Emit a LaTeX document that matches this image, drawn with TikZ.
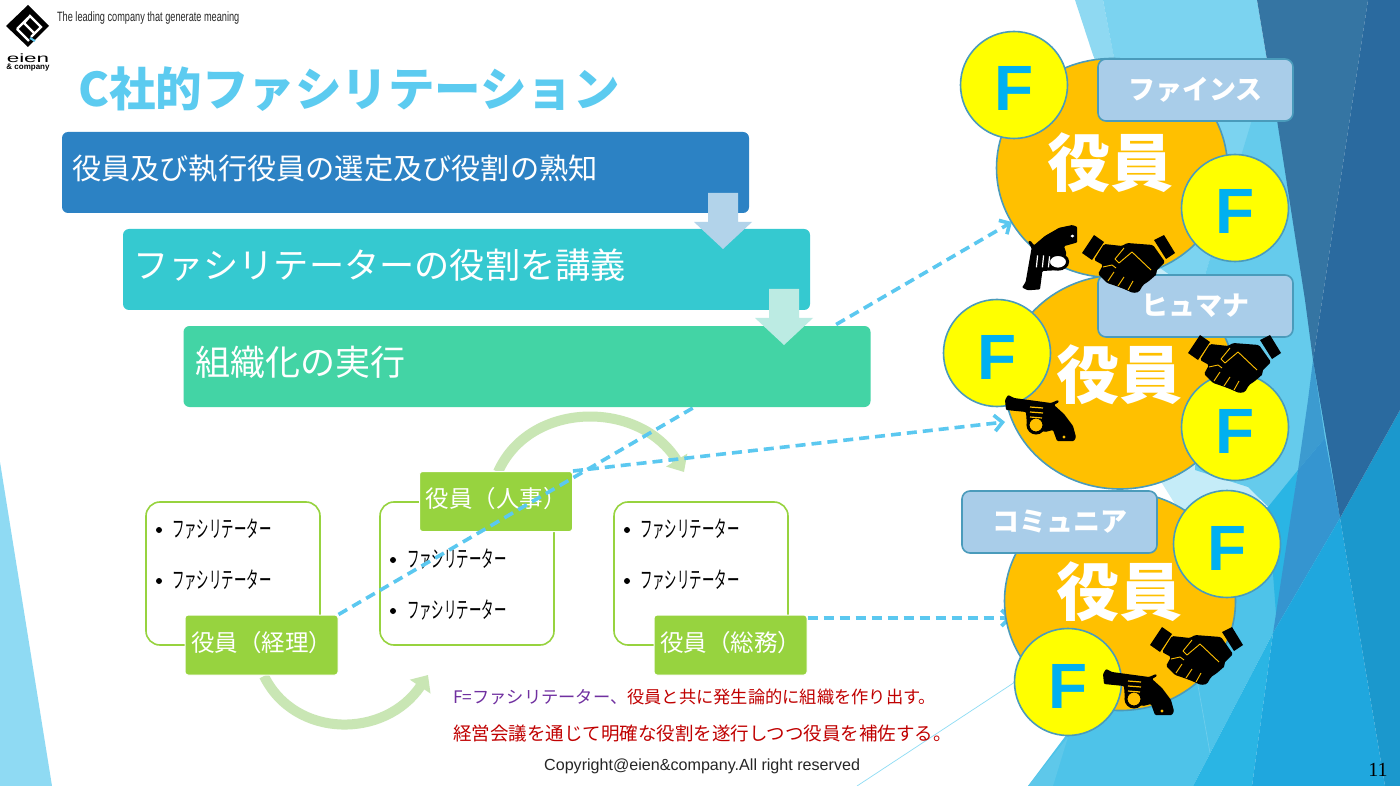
\documentclass[tikz,border=0pt]{standalone}
\usepackage{fontspec}
\setmainfont{Noto Sans CJK JP}
\newfontfamily\latinsans{Liberation Sans}
\newfontfamily\latinserif{Liberation Serif}
\usetikzlibrary{arrows.meta,shapes.geometric}
\definecolor{titleblue}{HTML}{5CCBF0}
\definecolor{stageone}{HTML}{2C82C4}
\definecolor{stagetwo}{HTML}{35C9D0}
\definecolor{stagethree}{HTML}{43D4A5}
\definecolor{leafgreen}{HTML}{97D33F}
\definecolor{palegreen}{HTML}{C9E6B4}
\definecolor{linkblue}{HTML}{5BC8F0}
\definecolor{rimblue}{HTML}{4A9BBB}
\definecolor{execgold}{HTML}{FFC000}
\definecolor{teamblue}{HTML}{A9CDE9}
\definecolor{markblue}{HTML}{00B0F0}
\definecolor{markyellow}{HTML}{FFFF00}
\definecolor{notered}{HTML}{C00000}
\definecolor{notepurple}{HTML}{7030A0}
\newcommand{\liftup}[2]{\raisebox{#1}[0pt][0pt]{#2}}
\begin{document}
\begin{tikzpicture}[x=1pt,y=-1pt,
stagebox/.style={rectangle,rounded corners=6pt,minimum width=687pt,minimum height=81pt,inner xsep=10pt,inner ysep=0pt,text=white,text width=667pt,align=left},
frame/.style={rectangle,rounded corners=14pt,draw=leafgreen,line width=1.6pt,fill=white,minimum width=174pt,minimum height=143pt},
officer/.style={rectangle,rounded corners=3pt,draw=white,line width=1pt,fill=leafgreen,minimum width=153pt,minimum height=60pt,inner sep=0pt,text=white,font=\fontsize{23.5}{26}\selectfont},
facil/.style={anchor=west,inner sep=0pt,xscale=0.54,transform shape,font=\fontsize{23}{26}\selectfont},
dotmark/.style={circle,fill=black,minimum size=6pt,inner sep=0pt},
turn/.style={draw=palegreen,line width=10pt,-{Triangle[length=14pt,width=24pt]}},
link/.style={draw=linkblue,line width=3.6pt,dash pattern=on 10pt off 6pt,-{Straight Barb[length=8pt,width=16pt]}},
exec/.style={ellipse,draw=rimblue,line width=1.6pt,fill=execgold,minimum width=231pt,minimum height=219pt,inner sep=0pt},
execword/.style={inner sep=0pt,text=white,font=\fontsize{63}{70}\selectfont\bfseries},
fmark/.style={circle,draw=rimblue,line width=1.6pt,fill=markyellow,minimum size=107pt,inner sep=0pt,text=markblue,font=\fontsize{64}{70}\selectfont\latinsans\bfseries},
team/.style={rectangle,rounded corners=8pt,draw=rimblue,line width=1.6pt,fill=teamblue,minimum width=195pt,minimum height=62pt,inner sep=0pt,text=white,font=\fontsize{27}{30}\selectfont\bfseries},
pics/shake/.style={code={
\fill (0,18)--(12,0)--(22,7)--(10,25)--cycle;
\fill (93,18)--(82,0)--(72,5)--(84,24)--cycle;
\fill[rounded corners=1.5pt] (22,9)--(40,11)--(45,8)--(71,10)--(83,27)--(74,36)--(75,39)--(67,46)--(61,50)--(57,57)--(51,58)--(42,54)--(34,51)--(25,48)--(16,39)--(21,30)--(12,25)--cycle;
\draw[execgold,line width=0.9pt,line join=round] (42,13)--(33,24)--(37,28)--(50,17)--(69,35);
\draw[execgold,line width=0.9pt] (21,32)--(30,30)--(34,33) (26,46)--(32,37) (36,51)--(42,42) (46,55)--(51,46);
}},
pics/gun/.style={code={
\fill[rounded corners=1pt] (4,10)--(7,5)--(13,8)--(50,13)--(57,10)--(58,12)--(53,15)--(63,24)--(72,36)--(75,47)--(73,51)--(56,51)--(52,40)--(44,42)--(26,36)--(25,22)--(5,20)--cycle;
\draw[line width=3pt,fill=#1] (35,35) circle (8pt);
\draw[#1,line width=1.2pt] (29,17)--(42,18) (29,22)--(42,23) (29,27)--(41,28);
\fill[#1] (63,47) circle (1.6pt);
}}]
\useasboundingbox (0,0) rectangle (1400,786);
\fill[white] (0,0) rectangle (1400,786);
\fill[color={rgb,255:red,143;green,218;blue,243}] (0,462)--(52,786)--(0,786)--cycle;
\fill[color={rgb,255:red,143;green,217;blue,242}] (1075,0)--(1103,0)--(1130,140)--(1093,55)--cycle;
\fill[color={rgb,255:red,197;green,236;blue,248}] (1125,180)--(1260,180)--(1260,520)--(1185,520)--(1160,480)--cycle;
\fill[color={rgb,255:red,123;green,211;blue,240}] (1103,0)--(1257,0)--(1277,120)--(1253,120)--(1205,275)--(1170,275)--(1153,263)--cycle;
\fill[color={rgb,255:red,101;green,203;blue,236}] (1258,100)--(1278,120)--(1340,518)--(1273,633)--(1268,507)--(1248,487)--(1195,470)--(1205,275)--cycle;
\fill[color={rgb,255:red,78;green,195;blue,233}] (1028,786)--(1193,786)--(1273,633)--(1285,560)--(1268,507)--(1180,510)--(1130,650)--cycle;
\fill[color={rgb,255:red,94;green,200;blue,234}] (1028,786)--(1068,737)--(1053,786)--cycle;
\fill[color={rgb,255:red,42;green,181;blue,228}] (1268,507)--(1298,470)--(1277,627)--cycle;
\fill[color={rgb,255:red,42;green,181;blue,228}] (1193,786)--(1273,633)--(1252,786)--cycle;
\fill[color={rgb,255:red,60;green,155;blue,208}] (1313,360)--(1325,438)--(1298,470)--(1308,400)--cycle;
\fill[color={rgb,255:red,53;green,149;blue,208}] (1298,470)--(1325,438)--(1340,518)--(1273,633)--cycle;
\fill[color={rgb,255:red,31;green,167;blue,222}] (1252,786)--(1273,633)--(1340,518)--(1385,786)--cycle;
\fill[color={rgb,255:red,27;green,152;blue,205}] (1340,518)--(1400,410)--(1400,786)--(1385,786)--cycle;
\fill[color={rgb,255:red,53;green,117;blue,163}] (1257,0)--(1368,0)--(1313,360)--(1305,300)--(1277,120)--cycle;
\fill[color={rgb,255:red,42;green,106;blue,159}] (1368,0)--(1400,0)--(1400,410)--(1340,518)--(1313,360)--cycle;
\draw[color={rgb,255:red,141;green,220;blue,245},line width=0.7pt] (857,786)--(1015,682);
\draw[color={rgb,255:red,110;green,205;blue,236},line width=0.7pt] (1197,680)--(1210,753);
\fill[black] (28,5)--(49,26)--(28,47)--(6,26)--cycle;
\draw[white,line width=2.4pt,line join=miter] (35,34)--(24,23)--(30,16)--(41,27)--(31,37) (17,29)--(28,18);
\draw[white,line width=2.4pt] (17,29)--(29,41);
\draw[linkblue,line width=2pt] (30,38)--(35,41);
\coordinate (brandA) at (57,18);
\node[anchor=west,inner sep=0pt,xscale=0.68,transform shape,text=black!85,font=\fontsize{13.5}{15}\selectfont\latinsans] (slogan) at (brandA) {The leading company that generate meaning};
\node[inner sep=0pt,xscale=1.87,transform shape,font=\fontsize{12}{13}\selectfont\latinsans] (brand) at (28,58) {eien};
\node[inner sep=0pt,font=\fontsize{8}{9}\selectfont\latinsans\bfseries] (brandsub) at (28,68) {\& company};
\node[anchor=west,inner sep=0pt,text=titleblue,font=\fontsize{46.5}{50}\selectfont\bfseries] (heading) at (78,89) {C社的ファシリテーション};
\node[frame] (frameA) at (233,573.5) {};
\node[frame] (frameB) at (467,573.5) {};
\node[frame] (frameC) at (701,573.5) {};
\node[dotmark] (dotA) at (159,530) {};
\node[dotmark] (dotB) at (159,581) {};
\node[facil] (facA) at (172,529) {ファシリテーター};
\node[facil] (facB) at (172,580) {ファシリテーター};
\node[dotmark] (dotC) at (393,560) {};
\node[dotmark] (dotD) at (393,611) {};
\node[facil] (facC) at (407,559) {ファシリテーター};
\node[facil] (facD) at (407,610) {ファシリテーター};
\node[dotmark] (dotE) at (627,530) {};
\node[dotmark] (dotF) at (627,581) {};
\node[facil] (facE) at (640,529) {ファシリテーター};
\node[facil] (facF) at (640,580) {ファシリテーター};
\coordinate (turnA) at (264,676);
\coordinate (turnB) at (428,675);
\coordinate (turnC) at (498,472);
\coordinate (turnD) at (684,472);
\draw[turn] (turnA) .. controls (295,739) and (385,739) .. (turnB);
\draw[turn] (turnC) .. controls (530,400) and (640,400) .. (turnD);
\node[officer] (officerA) at (261.5,645) {\liftup{-6pt}{役員（経理）}};
\node[officer] (officerB) at (496,501.5) {\liftup{-6pt}{役員（人事）}};
\node[officer] (officerC) at (730.5,645) {\liftup{-6pt}{役員（総務）}};
\node[anchor=west,inner sep=0pt,text=notered,font=\fontsize{17.25}{20}\selectfont] (noteA) at (453,697) {\textcolor{notepurple}{F=ファシリテーター、}役員と共に発生論的に組織を作り出す。};
\node[anchor=west,inner sep=0pt,text=notered,font=\fontsize{18.5}{20}\selectfont] (noteB) at (453,734) {経営会議を通じて明確な役割を遂行しつつ役員を補佐する。};
\node[anchor=west,inner sep=0pt,text=black!85,font=\fontsize{16.1}{18}\selectfont\latinsans] (rights) at (544,766) {Copyright@eien\&company.All right reserved};
\node[inner sep=0pt,font=\fontsize{20}{22}\selectfont\latinserif] (pageno) at (1378,770) {11};
\coordinate (hubOne) at (1112,168);
\coordinate (linkA) at (1012,222);
\coordinate (linkB) at (1005,422);
\coordinate (linkC) at (1012,618);
\draw[link] (officerA.north east) -- (linkA);
\draw[link] (officerB.north east) -- (linkB);
\draw[link] (officerC.east |- linkC) -- (linkC);
\node[stagebox,fill=stageone,font=\fontsize{29.2}{32}\selectfont] (stageA) at (405.5,172.5) {\liftup{-7pt}{役員及び執行役員の選定及び役割の熟知}};
\node[stagebox,fill=stagetwo,font=\fontsize{35.2}{38}\selectfont] (stageB) at (466.5,269.5) {\liftup{-9pt}{ファシリテーターの役割を講義}};
\node[stagebox,fill=stagethree,font=\fontsize{35}{38}\selectfont] (stageC) at (527,366.5) {\hspace{2pt}\liftup{-9pt}{組織化の実行}};
\fill[color={rgb,255:red,178;green,211;blue,234}] (708,193)--(738,193)--(738,222)--(752,222)--(723,249)--(694,222)--(708,222)--cycle;
\fill[color={rgb,255:red,188;green,235;blue,227}] (769,289)--(799,289)--(799,318)--(813,318)--(784,345)--(755,318)--(769,318)--cycle;
\node[exec] (execA) at (hubOne) {};
\node[exec,minimum height=214pt] (execB) at (1120,382) {};
\node[exec] (execC) at (1120,601) {};
\node[execword] (wordA) at (1110,163) {役員};
\node[execword] (wordB) at (1119,375) {役員};
\node[execword] (wordC) at (1119,592) {役員};
\node[fmark] (fmarkA) at (1014,85) {\liftup{-26pt}{F}};
\node[fmark] (fmarkB) at (1235,208) {\liftup{-26pt}{F}};
\node[fmark] (fmarkC) at (997,353) {\liftup{-26pt}{F}};
\node[fmark] (fmarkD) at (1235,427) {\liftup{-26pt}{F}};
\node[fmark] (fmarkE) at (1227,544) {\liftup{-26pt}{F}};
\node[fmark] (fmarkF) at (1068,682) {\liftup{-26pt}{F}};
\node[team] (teamA) at (1195.5,90) {ファインス};
\node[team] (teamB) at (1195.5,306) {ヒュマナ};
\node[team] (teamC) at (1059.5,522) {コミュニア};
\pic at (1082,235) {shake};
\pic at (1188,335) {shake};
\pic at (1150,627) {shake};
\pic[rotate=90,xscale=0.92,yscale=1.2] at (1016,294) {gun=white};
\pic at (1001,390) {gun=execgold};
\pic at (1099,664) {gun=execgold};
\end{tikzpicture}
\end{document}
